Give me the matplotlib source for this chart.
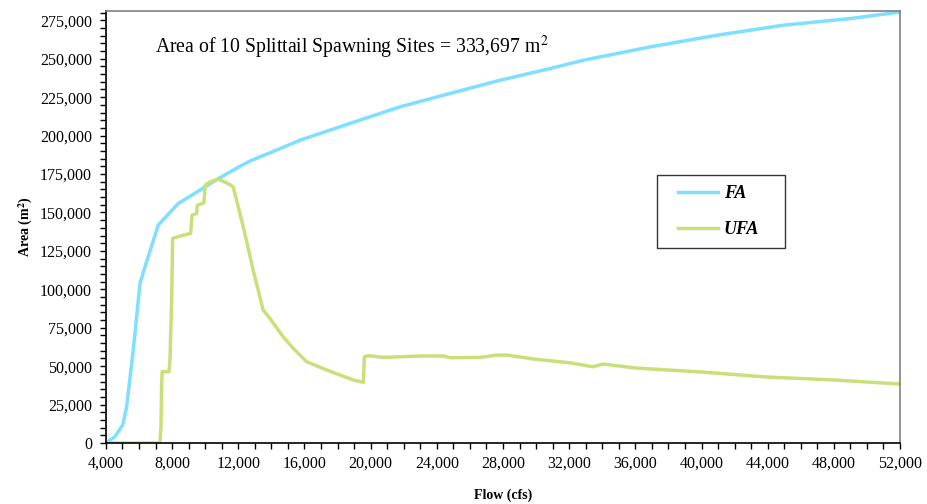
import numpy as np
import matplotlib.pyplot as plt
from matplotlib.ticker import MultipleLocator, FuncFormatter
from matplotlib.legend_handler import HandlerLine2D
from matplotlib.lines import Line2D

plt.rcParams['font.family'] = ['Liberation Serif', 'DejaVu Serif']
plt.rcParams['mathtext.fontset'] = 'stix'

# FA curve (flow in cfs, area in m2)
fa_flow = [4000, 4540, 5010, 5250, 5650, 6060, 6360, 7160, 8370, 9680, 10790,
           12100, 12710, 14520, 15730, 18750, 21770, 24790, 27820, 30840,
           32840, 36890, 40940, 44930, 48980, 52000]
fa_area = [0, 4100, 11700, 23600, 60500, 104000, 114600, 141800, 155800,
           164500, 172000, 180000, 183500, 191500, 197000, 207900, 218700,
           227400, 236000, 243600, 249000, 257700, 265300, 271800, 276100,
           280400]

# UFA curve
ufa_flow = [4000, 7260, 7325, 7365, 7400, 7810, 7870, 7970, 8030, 8470, 9120,
            9200, 9480, 9520, 9920, 10000, 10290, 10790, 11390, 11690, 12300,
            12900, 13500, 13910, 14710, 15320, 16130, 17340, 18950, 19560,
            19620, 19860, 20790, 23010, 24410, 24810, 26620, 27630, 28230,
            30040, 32050, 33440, 34040, 36000, 40000, 44000, 48000, 52000]
ufa_area = [0, 0, 10600, 38800, 46400, 46400, 54000, 93000, 133100, 134600,
            136400, 148200, 149300, 154700, 156200, 167700, 169900, 171600,
            168800, 166700, 140600, 112500, 86500, 81100, 69100, 61600, 52900,
            47500, 41000, 39500, 56100, 56800, 55700, 56600, 56600, 55500,
            55700, 57200, 57200, 54400, 52200, 49600, 51400, 48800, 46200,
            42900, 41000, 38400]

fig = plt.figure(figsize=(9.27, 5.04), dpi=100)
ax = fig.add_axes([0.1143, 0.121, 0.8566, 0.857])

ax.plot(fa_flow, fa_area, color='#7EDFFF', lw=2.5, label='FA')
ax.plot(ufa_flow, ufa_area, color='#C9E07A', lw=2.5, label='UFA')

ax.set_xlim(4000, 52000)
ax.set_ylim(0, 281000)
ax.xaxis.set_major_locator(MultipleLocator(4000))
ax.xaxis.set_minor_locator(MultipleLocator(1000))
ax.yaxis.set_major_locator(MultipleLocator(25000))
ax.yaxis.set_minor_locator(MultipleLocator(5000))
fmt = FuncFormatter(lambda v, p: f'{int(v):,}')
ax.xaxis.set_major_formatter(fmt)
ax.yaxis.set_major_formatter(fmt)
ax.tick_params(which='both', direction='out', length=4, width=1, labelsize=11.5)
ax.tick_params(axis='x', pad=5)
ax.tick_params(axis='y', pad=6)

for s in ['top', 'right']:
    ax.spines[s].set_color('#808080')
    ax.spines[s].set_linewidth(1.2)
for s in ['left', 'bottom']:
    ax.spines[s].set_color('black')
    ax.spines[s].set_linewidth(1.2)

ax.set_xlabel('Flow (cfs)', fontweight='bold', fontsize=10, labelpad=12)
ax.set_ylabel('Area (m$^\\mathbf{2}$)', fontweight='bold', fontsize=10, labelpad=4)

ax.text(0.0617, 0.915, 'Area of 10 Splittail Spawning Sites = 333,697 m$^2$',
        transform=ax.transAxes, fontsize=14.2, va='center', ha='left')

# legend with padded handles
leg = ax.legend(loc='upper left', bbox_to_anchor=(0.694, 0.451, 0.161, 0.169),
                mode='expand',
                prop={'weight': 'bold', 'style': 'italic', 'size': 13},
                fancybox=False, edgecolor='#333333', framealpha=1,
                handlelength=2.8, handletextpad=0.35, borderpad=0.55,
                labelspacing=1.05, borderaxespad=0,
                handler_map={Line2D: HandlerLine2D(xpad=0.6)})
leg.get_frame().set_linewidth(1.0)

fig.savefig('out.png', dpi=100)
